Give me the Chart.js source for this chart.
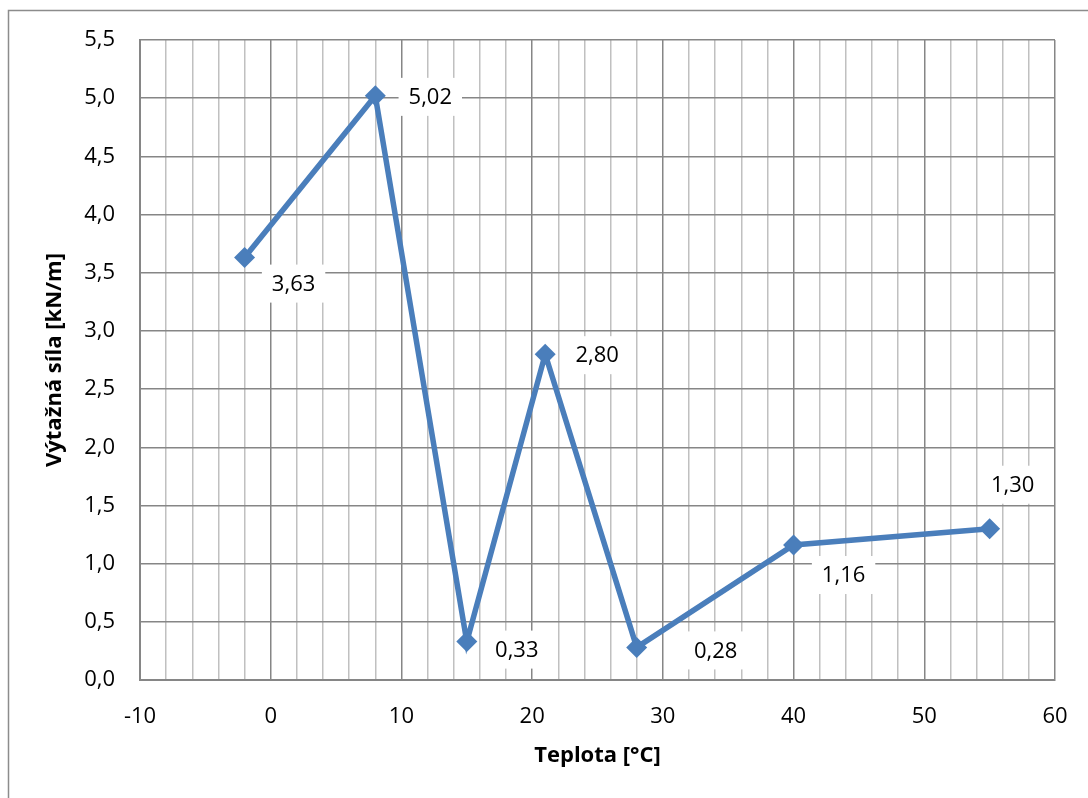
<!DOCTYPE html>
<html>
<head>
<meta charset="utf-8">
<script src="https://cdn.jsdelivr.net/npm/chart.js@4"></script>
<style>
  html, body { margin: 0; padding: 0; background: #fff; }
</style>
</head>
<body>
<canvas id="myChart" width="1088" height="798"></canvas>
<script>
// teplota [°C] a výťažná sila [kN/m]
const teploty = [-2, 8, 15, 21, 28, 40, 55];
const sily = [3.63, 5.02, 0.33, 2.80, 0.28, 1.16, 1.30];

// posun popiskov od bodu (px)
const labelOffsets = [[49, 26], [55, 1], [50, 8], [52, 1], [79, 3], [50, 30], [23, -44]];

const fmt = (v, d) => v.toFixed(d).replace('.', ',');

const frame = {
    id: 'frame',
    beforeDraw(chart) {
        const ctx = chart.ctx;
        ctx.save();
        ctx.fillStyle = '#fff';
        ctx.fillRect(0, 0, chart.width, chart.height);
        ctx.strokeStyle = '#8c8c8c';
        ctx.lineWidth = 1.5;
        ctx.strokeRect(8.5, 10.5, 1200, 900);
        ctx.restore();
    }
};

const dataLabels = {
    id: 'dataLabels',
    afterDatasetsDraw(chart) {
        const ctx = chart.ctx;
        const meta = chart.getDatasetMeta(0);
        ctx.save();
        ctx.font = '22px "Open Sans"';
        ctx.textAlign = 'center';
        ctx.textBaseline = 'middle';
        meta.data.forEach((pt, i) => {
            const txt = fmt(sily[i], 2);
            const x = pt.x + labelOffsets[i][0];
            const y = pt.y + labelOffsets[i][1];
            const w = ctx.measureText(txt).width + 20;
            const h = 38;
            ctx.fillStyle = '#fff';
            ctx.fillRect(x - w / 2, y - h / 2, w, h);
            ctx.fillStyle = '#000';
            ctx.fillText(txt, x, y + 1);
        });
        ctx.restore();
    }
};

const myChart = new Chart(document.getElementById('myChart'), {
    type: 'scatter',
    data: {
        datasets: [{
            label: 'Výťažná sila',
            data: teploty.map((t, i) => ({ x: t, y: sily[i] })),
            showLine: true,
            borderColor: '#4a7ebb',
            backgroundColor: '#4a7ebb',
            borderWidth: 5.5,
            pointStyle: 'rectRot',
            pointRadius: 10.5,
            pointHoverRadius: 10.5,
            pointBorderWidth: 0,
        }]
    },
    options: {
        responsive: false,
        animation: false,
        layout: {
            padding: { left: 10, top: 40, right: 33, bottom: 0 }
        },
        plugins: {
            legend: { display: false },
            tooltip: { enabled: false }
        },
        scales: {
            x: {
                type: 'linear',
                min: -10,
                max: 60,
                afterFit: (s) => {
                    s.height = 118;
                    s.paddingLeft = 0;
                    s.paddingRight = 0;
                },
                afterBuildTicks: (s) => {
                    const t = [];
                    for (let v = -10; v <= 60; v += 2) t.push({ value: v });
                    s.ticks = t;
                },
                grid: {
                    drawTicks: false,
                    color: (c) => (c.tick && c.tick.value % 10 === 0) ? '#868686' : '#c0c0c0',
                    lineWidth: 1.5
                },
                border: { color: '#868686', width: 2 },
                ticks: {
                    autoSkip: false,
                    maxRotation: 0,
                    padding: 24,
                    color: '#000',
                    font: { size: 22, family: 'Open Sans' },
                    callback: (v) => v % 10 === 0 ? String(v) : ''
                },
                title: {
                    display: true,
                    text: 'Teplota [°C]',
                    color: '#000',
                    padding: { top: 29, bottom: 29 },
                    font: { size: 22, weight: 'bold', family: 'Open Sans' }
                }
            },
            y: {
                min: 0,
                max: 5.5,
                afterFit: (s) => { s.width = 130; },
                grid: {
                    drawTicks: false,
                    color: '#868686',
                    lineWidth: 1.5
                },
                border: { color: '#868686', width: 2 },
                ticks: {
                    stepSize: 0.5,
                    padding: 25,
                    color: '#000',
                    font: { size: 22, family: 'Open Sans' },
                    callback: (v) => fmt(v, 1)
                },
                title: {
                    display: true,
                    text: 'Výtažná síla [kN/m]',
                    color: '#000',
                    padding: { top: 32, bottom: 32 },
                    font: { size: 22, weight: 'bold', family: 'Open Sans' }
                }
            }
        }
    },
    plugins: [frame, dataLabels]
});
</script>
</body>
</html>
